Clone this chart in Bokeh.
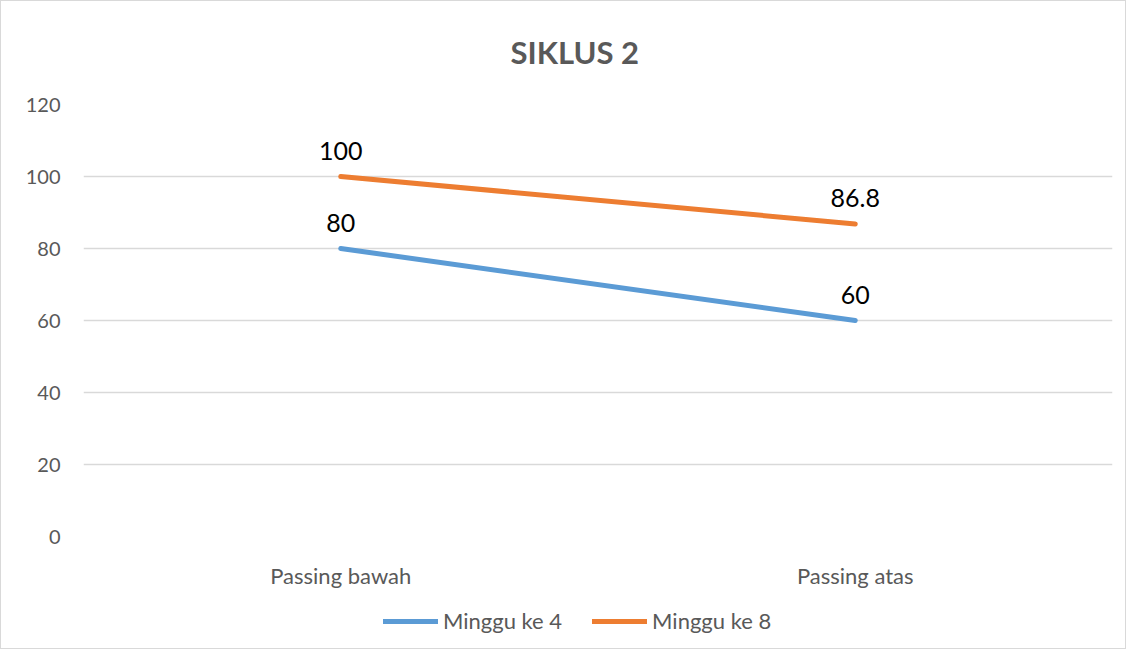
from bokeh.plotting import figure
from bokeh.layouts import column
from bokeh.models import ColumnDataSource, FactorRange, Range1d, FixedTicker, Legend, LegendItem, LabelSet
from bokeh.core.properties import value
from bokeh.embed import file_html
from bokeh.resources import INLINE

# ---- data ----
categories = ["Passing bawah", "Passing atas"]
series_names = ["Minggu ke 4", "Minggu ke 8"]
minggu_4 = [80, 60]
minggu_8 = [100, 86.8]
y_ticks = [0, 20, 40, 60, 80, 100, 120]
title_text = "SIKLUS 2"

FONT = "Lato"
GRAY = "#595959"
BLUE = "#5b9bd5"
ORANGE = "#ed7d31"
W = 1124
H_MAIN = 590
H_LEG = 57

p = figure(
    x_range=FactorRange(*categories),
    y_range=Range1d(y_ticks[0], y_ticks[-1]),
    width=W, height=H_MAIN,
    min_border_left=82, min_border_right=13, min_border_top=102, min_border_bottom=53,
    output_backend="svg", toolbar_location=None,
)
p.outline_line_color = None
p.background_fill_color = "white"
p.border_fill_color = "white"

src4 = ColumnDataSource(dict(x=categories, y=minggu_4, t=[f"{v:g}" for v in minggu_4]))
src8 = ColumnDataSource(dict(x=categories, y=minggu_8, t=[f"{v:g}" for v in minggu_8]))
sources = [src4, src8]

line_styles = [dict(line_width=5, line_color=BLUE, line_cap="round", line_join="round"),
               dict(line_width=5, line_color=ORANGE, line_cap="round", line_join="round")]

for s, st in zip(sources, line_styles):
    p.line("x", "y", source=s, **st)

for s in sources:
    p.add_layout(LabelSet(x="x", y="y", text="t", source=s, text_align="center",
                          text_baseline="alphabetic", y_offset=17,
                          text_font=value(FONT), text_font_size="25px", text_color="black"))

# axes
for ax in (p.xaxis[0], p.yaxis[0]):
    ax.axis_line_color = None
    ax.major_tick_line_color = None
    ax.minor_tick_line_color = None
    ax.major_label_text_font = FONT
    ax.major_label_text_color = GRAY
p.yaxis[0].ticker = FixedTicker(ticks=y_ticks)
p.yaxis[0].major_label_text_font_size = "20px"
p.yaxis[0].major_label_standoff = 17
p.xaxis[0].major_label_text_font_size = "22px"
p.xaxis[0].major_label_standoff = 19

p.xgrid.grid_line_color = None
p.ygrid.grid_line_color = "#d9d9d9"
p.ygrid.grid_line_width = 1.5

# title
p.title.text = title_text
p.title.align = "left"
p.title.vertical_align = "top"
p.title.offset = 427
p.title.standoff = 63
p.title.text_font = FONT
p.title.text_font_style = "bold"
p.title.text_font_size = "31px"
p.title.text_color = GRAY

# legend strip below the chart (same series, drawn outside its visible range)
pl = figure(width=W, height=H_LEG, x_range=p.x_range, y_range=Range1d(1000, 1001),
            min_border_left=0, min_border_right=0, min_border_top=0, min_border_bottom=0,
            x_axis_location=None, y_axis_location=None,
            output_backend="svg", toolbar_location=None)
pl.outline_line_color = None
pl.xgrid.grid_line_color = None
pl.ygrid.grid_line_color = None
proxies = [pl.line("x", "y", source=s, **st) for s, st in zip(sources, line_styles)]

legend = Legend(
    items=[LegendItem(label=name, renderers=[r]) for name, r in zip(series_names, proxies)],
    orientation="horizontal", location=(300, 14),
    glyph_width=55, glyph_height=20, label_standoff=5, spacing=30,
    padding=0, margin=0, border_line_color=None, background_fill_alpha=0,
    label_text_font=FONT, label_text_font_size="22px", label_text_color=GRAY,
)
pl.add_layout(legend)

layout = column(p, pl, spacing=0)
layout.styles = {"border": "1px solid #d9d9d9"}

open("out.html", "w").write(file_html(layout, INLINE))
